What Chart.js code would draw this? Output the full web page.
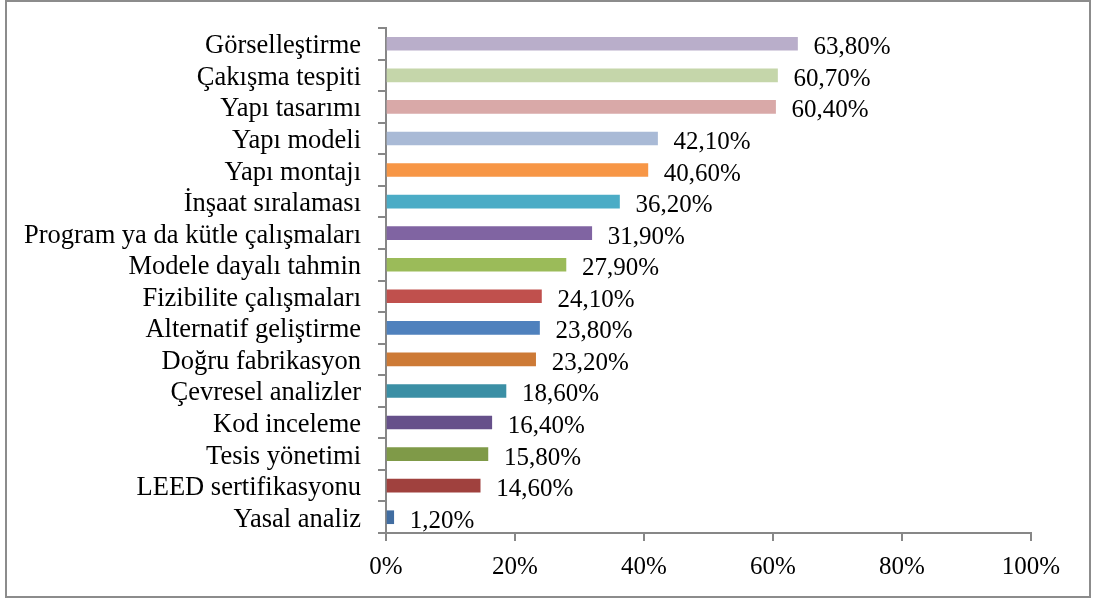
<!DOCTYPE html>
<html lang="tr">
<head>
    <meta charset="UTF-8">
    <title>BIM kullanım alanları</title>
    <style>
        html, body { margin: 0; padding: 0; background: #fff; }
        #wrap { position: relative; width: 1094px; height: 601px; }
    </style>
</head>
<body>
<div id="wrap"><canvas id="barChart" width="1094" height="601"></canvas></div>
<script src="https://cdn.jsdelivr.net/npm/chart.js"></script>
<script>
// categories, top to bottom
const categories = [
    'Görselleştirme', 'Çakışma tespiti', 'Yapı tasarımı', 'Yapı modeli',
    'Yapı montajı', 'İnşaat sıralaması', 'Program ya da kütle çalışmaları',
    'Modele dayalı tahmin', 'Fizibilite çalışmaları', 'Alternatif geliştirme',
    'Doğru fabrikasyon', 'Çevresel analizler', 'Kod inceleme',
    'Tesis yönetimi', 'LEED sertifikasyonu', 'Yasal analiz'
];
const values = [63.8, 60.7, 60.4, 42.1, 40.6, 36.2, 31.9, 27.9, 24.1, 23.8, 23.2, 18.6, 16.4, 15.8, 14.6, 1.2];
const barColors = [
    '#B9AECA', '#C5D6AA', '#D9A9A8', '#A9BAD6', '#F79646', '#4BACC6', '#8064A2', '#9BBB59',
    '#C0504D', '#4F81BD', '#CD7A36', '#3B8FA5', '#66508A', '#7F9A48', '#A0413E', '#416DA1'
];
const xTicks = [0, 20, 40, 60, 80, 100];

const serif = '"Liberation Serif", "Times New Roman", serif';
const axisGray = '#878787';

// outer frame around the whole figure
const framePlugin = {
    id: 'frame',
    afterDraw(chart) {
        const c = chart.ctx;
        c.save();
        c.strokeStyle = '#8c8c8c';
        c.lineWidth = 2;
        c.strokeRect(6, 1, 1084, 596);
        c.restore();
    }
};

// category names left of the axis
const categoryLabels = {
    id: 'categoryLabels',
    afterDraw(chart) {
        const c = chart.ctx;
        const y = chart.scales.y;
        c.save();
        c.font = '26.5px ' + serif;
        c.fillStyle = '#000';
        c.textAlign = 'right';
        c.textBaseline = 'alphabetic';
        categories.forEach((name, i) => {
            c.fillText(name, y.right - 25, y.getPixelForValue(i) + 9.5);
        });
        c.restore();
    }
};

// percentage labels right of each bar
const valueLabels = {
    id: 'valueLabels',
    afterDatasetsDraw(chart) {
        const c = chart.ctx;
        const meta = chart.getDatasetMeta(0);
        c.save();
        c.font = '25px ' + serif;
        c.fillStyle = '#000';
        c.textAlign = 'left';
        c.textBaseline = 'alphabetic';
        meta.data.forEach((bar, i) => {
            const txt = values[i].toFixed(2).replace('.', ',') + '%';
            c.fillText(txt, bar.x + 16, bar.y + 10.5);
        });
        c.restore();
    }
};

new Chart(document.getElementById('barChart'), {
    type: 'bar',
    data: {
        labels: categories,
        datasets: [{
            data: values,
            backgroundColor: barColors,
            borderWidth: 0,
            barThickness: 13
        }]
    },
    options: {
        indexAxis: 'y',
        responsive: false,
        animation: false,
        layout: { padding: { left: 0, right: 63, top: 28, bottom: 0 } },
        plugins: {
            legend: { display: false },
            tooltip: { enabled: false }
        },
        scales: {
            x: {
                min: 0,
                max: 100,
                afterBuildTicks(axis) {
                    axis.ticks = xTicks.map(v => ({ value: v }));
                },
                afterFit(axis) { axis.height = 68; },
                border: { color: axisGray, width: 2 },
                grid: { drawOnChartArea: false, color: axisGray, lineWidth: 2, tickLength: 8 },
                ticks: {
                    color: '#000',
                    padding: 11,
                    font: { family: serif, size: 25 },
                    callback: v => v + '%'
                }
            },
            y: {
                afterFit(axis) { axis.width = 386; },
                border: { color: axisGray, width: 2 },
                grid: { drawOnChartArea: false, color: axisGray, lineWidth: 2, tickLength: 8, offset: true },
                ticks: { display: false }
            }
        }
    },
    plugins: [framePlugin, categoryLabels, valueLabels]
});
</script>
</body>
</html>
